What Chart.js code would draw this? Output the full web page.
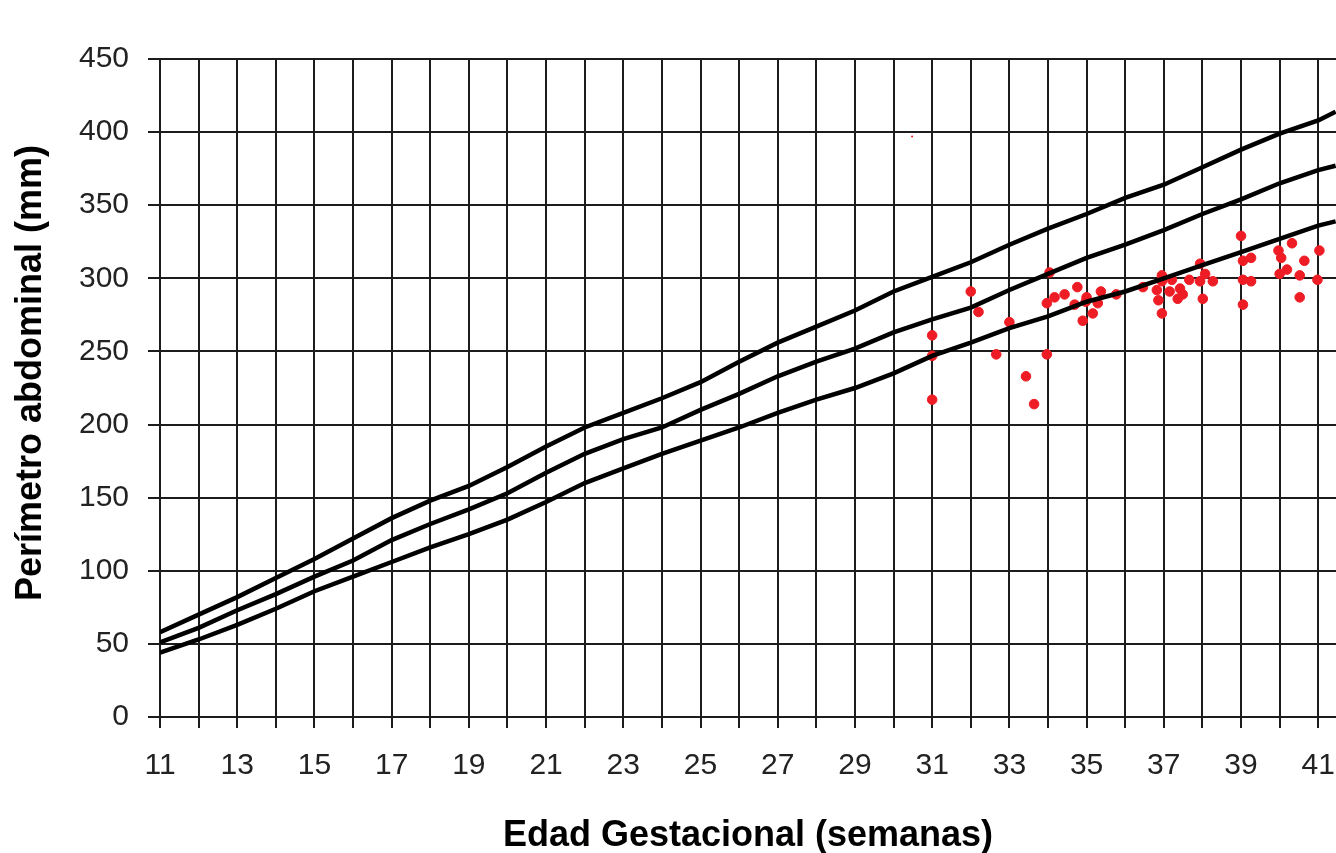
<!DOCTYPE html>
<html>
<head>
<meta charset="utf-8">
<title>Perímetro abdominal</title>
<script src="https://cdn.jsdelivr.net/npm/chart.js@4/dist/chart.umd.min.js"></script>
<style>
  html, body { margin: 0; padding: 0; background: #fff; }
  canvas { display: block; }
</style>
</head>
<body>
<canvas id="chart" width="1336" height="853"></canvas>
<script>
// Edad gestacional (semanas) for the reference curves
const weeks = [11, 12, 13, 14, 15, 16, 17, 18, 19, 20, 21, 22, 23, 24, 25, 26,
    27, 28, 29, 30, 31, 32, 33, 34, 35, 36, 37, 38, 39, 40, 41, 41.45];

// upper / middle / lower reference curves (mm)
const upperCurve = [58, 70, 82, 95, 108, 122, 136, 148, 158, 171, 185, 198, 208, 218,
    229, 243, 256, 267, 278, 291, 301, 311, 323, 334, 344, 355, 364, 376, 388, 399, 408, 414];
const middleCurve = [51, 61, 73, 84, 96, 107, 121, 132, 142, 153, 167, 180, 190, 198,
    210, 221, 233, 243, 252, 263, 272, 280, 292, 303, 314, 323, 333, 344, 354, 365, 374, 377];
const lowerCurve = [44, 53, 63, 74, 86, 96, 106, 116, 125, 135, 147, 160, 170, 180,
    189, 198, 208, 217, 225, 235, 247, 256, 266, 274, 284, 291, 300, 309, 318, 327, 336, 339];

// measured cases: week, perímetro
const caseWeeks = [34.04, 32.0, 32.2, 31.0, 31.0, 31.0, 33.0, 32.66, 33.43, 33.64, 33.97,
    33.97, 34.17, 34.43, 34.76, 34.69, 34.9, 35.0, 34.98, 35.16, 35.29, 35.37, 35.77,
    36.46, 36.82, 36.95, 36.95, 37.21, 36.86, 36.95, 37.15, 37.42, 37.36, 37.49, 37.66,
    37.94, 38.07, 37.94, 38.27, 38.01, 39.0, 39.05, 39.26, 39.05, 39.26, 39.05,
    39.97, 40.04, 40.19, 40.0, 40.32, 40.64, 40.52, 40.52, 41.03, 40.98];
const caseValues = [304, 291, 277, 261, 247, 217, 270, 248, 233, 214, 248,
    283, 287, 289, 294, 282, 271, 287, 284, 276, 283, 291, 289,
    294, 292, 302, 298, 299, 285, 276, 291, 293, 286, 289, 299,
    310, 303, 298, 298, 286, 329, 312, 314, 299, 298, 282,
    319, 314, 306, 303, 324, 312, 302, 287, 319, 299];

// stray mark near the top
const strayWeeks = [30.48];
const strayValues = [397];

const yTicks = [0, 50, 100, 150, 200, 250, 300, 350, 400, 450];

function toPoints(xs, ys) {
    return xs.map((x, i) => ({ x: x, y: ys[i] }));
}

function curve(label, values) {
    return {
        type: "line",
        label: label,
        data: toPoints(weeks, values),
        borderColor: "#000",
        borderWidth: 4.5,
        pointRadius: 0,
        tension: 0,
        fill: false,
    };
}

const gridColor = "#1c1c1c";
const font = "'Liberation Sans', Arial, sans-serif";

new Chart(document.getElementById("chart"), {
    type: "scatter",
    data: {
        datasets: [
            curve("Superior", upperCurve),
            curve("Media", middleCurve),
            curve("Inferior", lowerCurve),
            {
                label: "Casos",
                data: toPoints(caseWeeks, caseValues),
                backgroundColor: "rgb(238, 28, 36)",
                borderColor: "rgb(238, 28, 36)",
                pointRadius: 4.8,
                pointStyle: "circle",
            },
            {
                label: "Marca",
                data: toPoints(strayWeeks, strayValues),
                backgroundColor: "rgb(238, 28, 36)",
                borderWidth: 0,
                pointRadius: 1,
            },
        ],
    },
    options: {
        responsive: false,
        animation: false,
        events: [],
        layout: { autoPadding: false, padding: { top: 59, right: 0, bottom: 0, left: 0 } },
        plugins: {
            legend: { display: false },
            tooltip: { enabled: false },
        },
        scales: {
            x: {
                type: "linear",
                min: 11,
                max: 41.46,
                afterFit: (scale) => {
                    scale.height = 136;
                    scale.paddingLeft = 0;
                    scale.paddingRight = 0;
                },
                ticks: {
                    stepSize: 1,
                    includeBounds: false,
                    autoSkip: false,
                    maxRotation: 0,
                    padding: 20,
                    color: "#222",
                    font: { family: font, size: 30 },
                    callback: (v) => (Number.isInteger(v) && v % 2 === 1 ? String(v) : ""),
                },
                grid: { color: gridColor, lineWidth: 2, tickLength: 11 },
                border: { display: true, color: gridColor, width: 2 },
                title: {
                    display: true,
                    text: "Edad Gestacional (semanas)",
                    color: "#000",
                    font: { family: font, size: 36, weight: "bold" },
                    padding: { top: 0, bottom: -5 },
                },
            },
            y: {
                min: 0,
                max: 450,
                afterFit: (scale) => {
                    scale.width = 160;
                    scale.paddingTop = 0;
                    scale.paddingBottom = 0;
                },
                afterBuildTicks: (scale) => { scale.ticks = yTicks.map((v) => ({ value: v })); },
                ticks: {
                    padding: 19,
                    color: "#222",
                    font: { family: font, size: 30 },
                },
                grid: { color: gridColor, lineWidth: 2, tickLength: 12 },
                border: { display: true, color: gridColor, width: 2 },
                title: {
                    display: true,
                    text: "   Perímetro abdominal (mm)",
                    color: "#000",
                    font: { family: font, size: 36, weight: "bold" },
                    padding: { top: 9, bottom: 0 },
                },
            },
        },
    },
});
</script>
</body>
</html>
